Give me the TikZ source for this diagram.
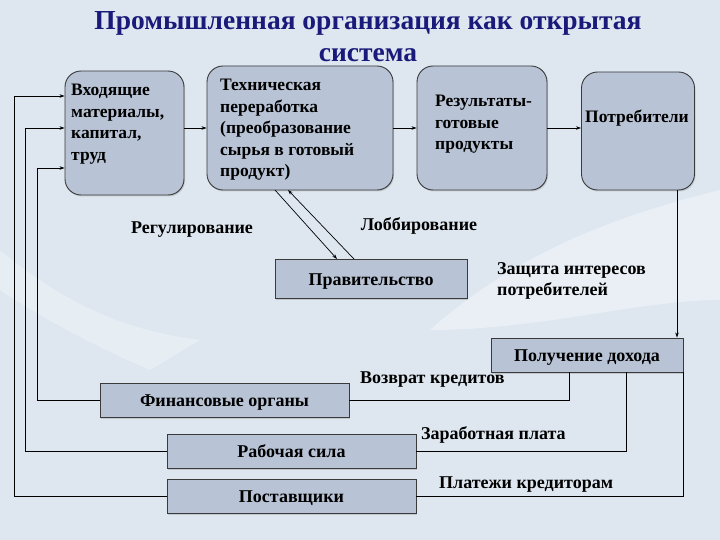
\documentclass[tikz,border=0pt]{standalone}
\usepackage{fontspec}
\setmainfont{Liberation Serif}
\usetikzlibrary{arrows.meta,shadows}
\definecolor{bgc}{HTML}{DEE7F0}
\definecolor{boxc}{HTML}{B8C3D5}
\definecolor{edgec}{HTML}{3A3A3A}
\definecolor{titlec}{HTML}{1A1A7A}
\begin{document}
\begin{tikzpicture}[x=1pt,y=-1pt,
  bigbox/.style={draw=edgec,line width=0.9pt,fill=boxc,rounded corners=16pt,inner sep=0pt,
     drop shadow={shadow xshift=1pt,shadow yshift=-1.5pt,opacity=0.3}},
  flatbox/.style={draw=edgec,line width=0.9pt,fill=boxc,inner sep=0pt,
     text height=15pt,text depth=2pt,
     drop shadow={shadow xshift=1pt,shadow yshift=-1.5pt,opacity=0.3},
     font=\fontsize{18}{21.5}\selectfont\bfseries},
  boxtext/.style={font=\fontsize{17.5}{21.5}\selectfont\bfseries,align=left,inner sep=0pt},
  lbl/.style={font=\fontsize{18}{21.5}\selectfont\bfseries,inner sep=0pt},
  conn/.style={draw=black,line width=0.7pt},
  arr/.style={conn,-{Stealth[length=5pt,width=3.5pt]}}]
\useasboundingbox (0,0) rectangle (720,540);
\fill[bgc] (0,0) rectangle (720,540);
\fill[white,opacity=0.35] (430,330) .. controls (520,250) and (620,215) .. (720,190) -- (720,300) .. controls (640,300) and (540,330) .. (430,330) -- cycle;
\fill[white,opacity=0.25] (0,250) .. controls (60,300) and (120,330) .. (200,340) -- (150,370) .. controls (80,340) and (30,310) .. (0,290) -- cycle;

% title
\node[font=\fontsize{27.5}{32}\selectfont\bfseries,text=titlec,align=center] (title) at (368,37)
  {Промышленная организация как открытая\\система};

% top boxes
\node[bigbox,minimum width=119pt,minimum height=124pt] (in) at (124.5,133) {};
\node[boxtext,anchor=north west] (intext) at (71,84) {Входящие\\материалы,\\капитал,\\труд};
\node[bigbox,minimum width=186pt,minimum height=124pt] (proc) at (300,128) {};
\node[boxtext,anchor=north west] (proctext) at (220,79) {Техническая\\переработка\\(преобразование\\сырья в готовый\\продукт)};
\node[bigbox,minimum width=130pt,minimum height=124pt] (res) at (482,128) {};
\node[boxtext,anchor=north west] (restext) at (435,95) {Результаты-\\готовые\\продукты};
\node[bigbox,minimum width=113pt,minimum height=118pt] (cons) at (638,131) {};
\node[boxtext,anchor=center] (constext) at (637,118) {Потребители};

% flat boxes
\node[flatbox,minimum width=192pt,minimum height=39pt] (gov) at (371,278.5) {Правительство};
\node[flatbox,minimum width=192pt,minimum height=34pt] (inc) at (587,355) {Получение дохода};
\node[flatbox,minimum width=249pt,minimum height=34pt] (fin) at (224.5,400) {Финансовые органы};
\node[flatbox,minimum width=249pt,minimum height=34pt] (lab) at (291.5,451) {Рабочая сила};
\node[flatbox,minimum width=249pt,minimum height=34pt] (sup) at (291.5,496) {Поставщики};

% labels
\node[lbl] (reg) at (192,230) {Регулирование};
\node[lbl] (lob) at (419,226) {Лоббирование};
\node[lbl,align=left,anchor=north west] (prot) at (497,262) {Защита интересов\\потребителей};
\node[lbl,anchor=west] (ret) at (360,380) {Возврат кредитов};
\node[lbl,anchor=west] (wage) at (421,435) {Заработная плата};
\node[lbl,anchor=west] (pay) at (439,485) {Платежи кредиторам};

% top chain
\draw[arr] (in.east |- 0,128) -- (proc.west |- 0,128);
\draw[arr] (proc.east |- 0,128) -- (res.west |- 0,128);
\draw[arr] (res.east |- 0,128) -- (cons.west |- 0,128);
\draw[arr] (cons.south -| 677,0) -- (inc.north -| 677,0);

% government
\coordinate (p1) at (275,190);
\coordinate (p2) at (337,259);
\coordinate (p3) at (354,259);
\coordinate (p4) at (288,190);
\draw[arr] (p1) -- (p2);
\draw[arr] (p3) -- (p4);

% income distribution
\draw[conn] (inc.south -| 569,0) |- (fin.east);
\draw[conn] (inc.south -| 626,0) |- (lab.east);
\draw[conn] (inc.south east) |- (sup.east);

% feedback to inputs
\draw[arr] (fin.west) -| (37,168) -- (in.west |- 0,168);
\draw[arr] (lab.west) -| (25,128) -- (in.west |- 0,128);
\draw[arr] (sup.west) -| (14,96) -- (in.west |- 0,96);
\end{tikzpicture}
\end{document}
